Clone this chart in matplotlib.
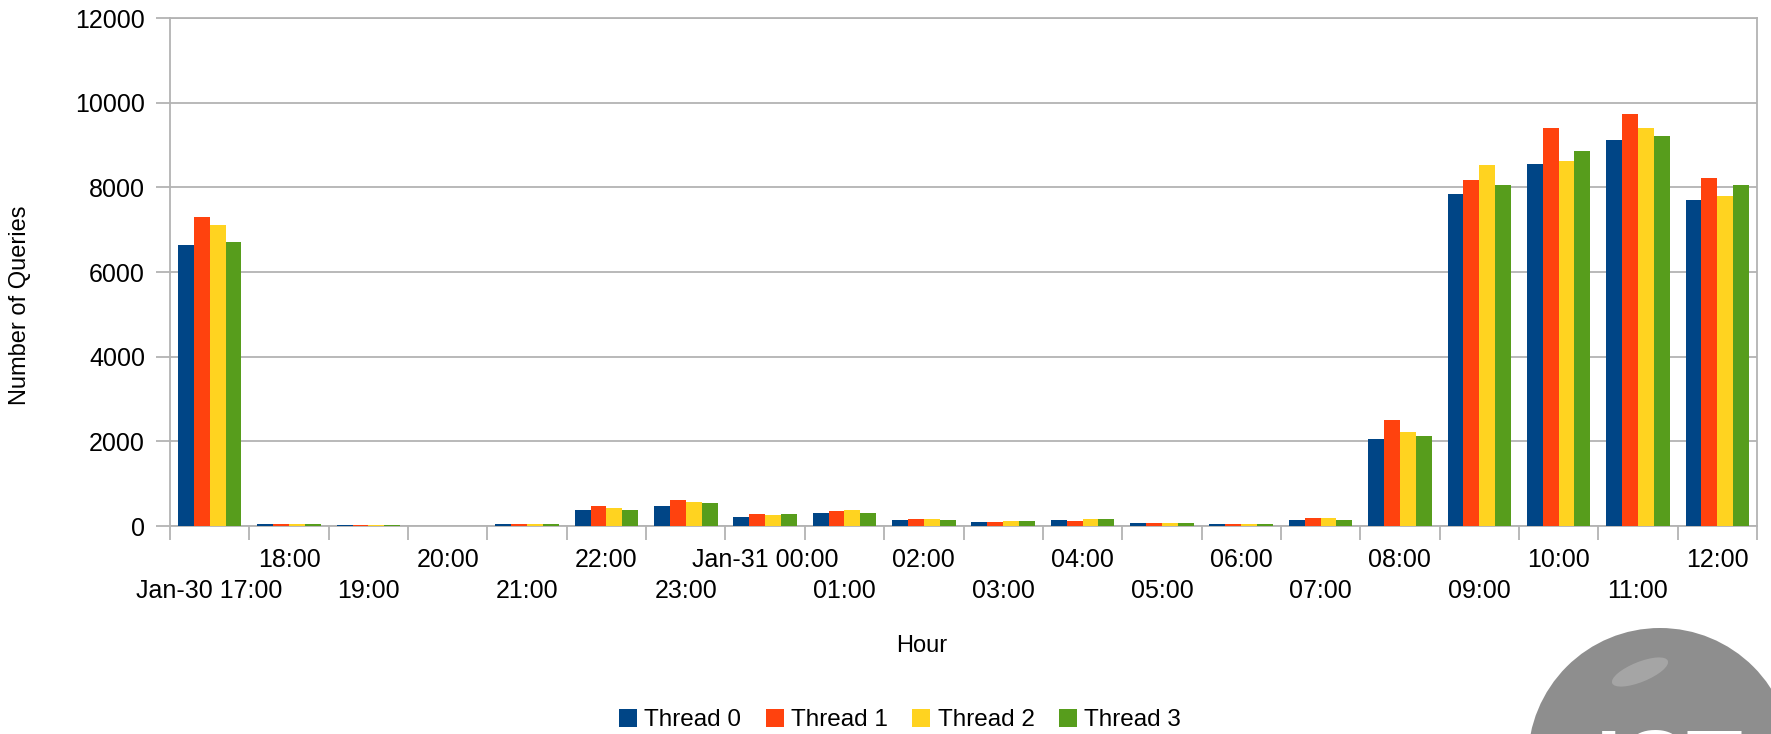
import numpy as np
import matplotlib.pyplot as plt
from matplotlib.patches import Circle, Ellipse

plt.rcParams['font.family'] = ['Liberation Sans', 'DejaVu Sans']

# hourly query counts per thread
hours = ['Jan-30 17:00', '18:00', '19:00', '20:00', '21:00', '22:00', '23:00',
         'Jan-31 00:00', '01:00', '02:00', '03:00', '04:00', '05:00', '06:00',
         '07:00', '08:00', '09:00', '10:00', '11:00', '12:00']
thread0 = [6630, 40, 20, 0, 40, 370, 465, 205, 300, 135, 90, 135, 65, 40, 135, 2063, 7835, 8543, 9110, 7693]
thread1 = [7290, 40, 20, 0, 40, 465, 610, 275, 350, 160, 90, 110, 65, 40, 180, 2512, 8173, 9393, 9724, 8213]
thread2 = [7100, 40, 20, 0, 40, 420, 560, 250, 370, 160, 110, 160, 65, 40, 180, 2228, 8520, 8614, 9393, 7787]
thread3 = [6700, 40, 20, 0, 40, 370, 540, 275, 300, 135, 110, 160, 65, 40, 135, 2134, 8047, 8850, 9204, 8047]
series_names = ['Thread 0', 'Thread 1', 'Thread 2', 'Thread 3']
colors = ['#004586', '#ff420e', '#ffd320', '#579d1c']

grey = '#b3b3b3'

fig = plt.figure(figsize=(17.71, 7.34), dpi=100)
ax = fig.add_axes([170 / 1771, 1 - 526 / 734, 1587 / 1771, 508 / 734])

x = np.arange(len(hours))
w = 0.2
for k, vals in enumerate([thread0, thread1, thread2, thread3]):
    ax.bar(x - 0.3 + k * w, vals, width=w, color=colors[k], label=series_names[k], zorder=3)

ax.set_xlim(-0.5, len(hours) - 0.5)
ax.set_ylim(0, 12000)
ax.set_yticks(np.arange(0, 12001, 2000))
ax.yaxis.grid(True, color=grey, linewidth=1.3, zorder=0)
for s in ax.spines.values():
    s.set_color(grey)
    s.set_linewidth(1.3)

# category boundary ticks, labels on alternating rows
ax.set_xticks(np.arange(len(hours) + 1) - 0.5)
ax.set_xticklabels([])
ax.set_xticks(x, minor=True)
labels = [(h + '\n') if i % 2 else ('\n' + h) for i, h in enumerate(hours)]
ax.set_xticklabels(labels, minor=True, fontsize=18, linespacing=1.35)
ax.tick_params(axis='x', which='major', length=10, color=grey, width=1.3)
ax.tick_params(axis='x', which='minor', length=0, pad=16)
ax.tick_params(axis='y', length=10, color=grey, width=1.3, labelsize=18, pad=8)

fig.text(922 / 1771, 1 - 646 / 734, 'Hour', fontsize=17, ha='center', va='center')
fig.text(20 / 1771, 1 - 305 / 734, 'Number of Queries', fontsize=17, rotation=90,
         ha='center', va='center')

fig.legend(loc='center', bbox_to_anchor=(900 / 1771, 1 - 720 / 734), ncol=4, frameon=False,
           fontsize=17.5, handlelength=0.75, handleheight=0.75, handletextpad=0.3,
           columnspacing=1.0)

# grey badge in the bottom right corner (inches, so it stays round)
inch = fig.dpi_scale_trans
fig.patches.append(Circle((16.60, -0.26), 1.32, transform=inch,
                          facecolor='#8e8e8e', edgecolor='none'))
fig.patches.append(Ellipse((16.40, 0.62), 0.6, 0.2, angle=22, transform=inch,
                           facecolor='#bdbdbd', edgecolor='none', alpha=0.5))
fig.text(1670 / 1771, 6 / 734, 'ICT', fontsize=66, fontweight='bold', color='white',
         ha='center', va='top')

fig.savefig('out.png', dpi=100)
